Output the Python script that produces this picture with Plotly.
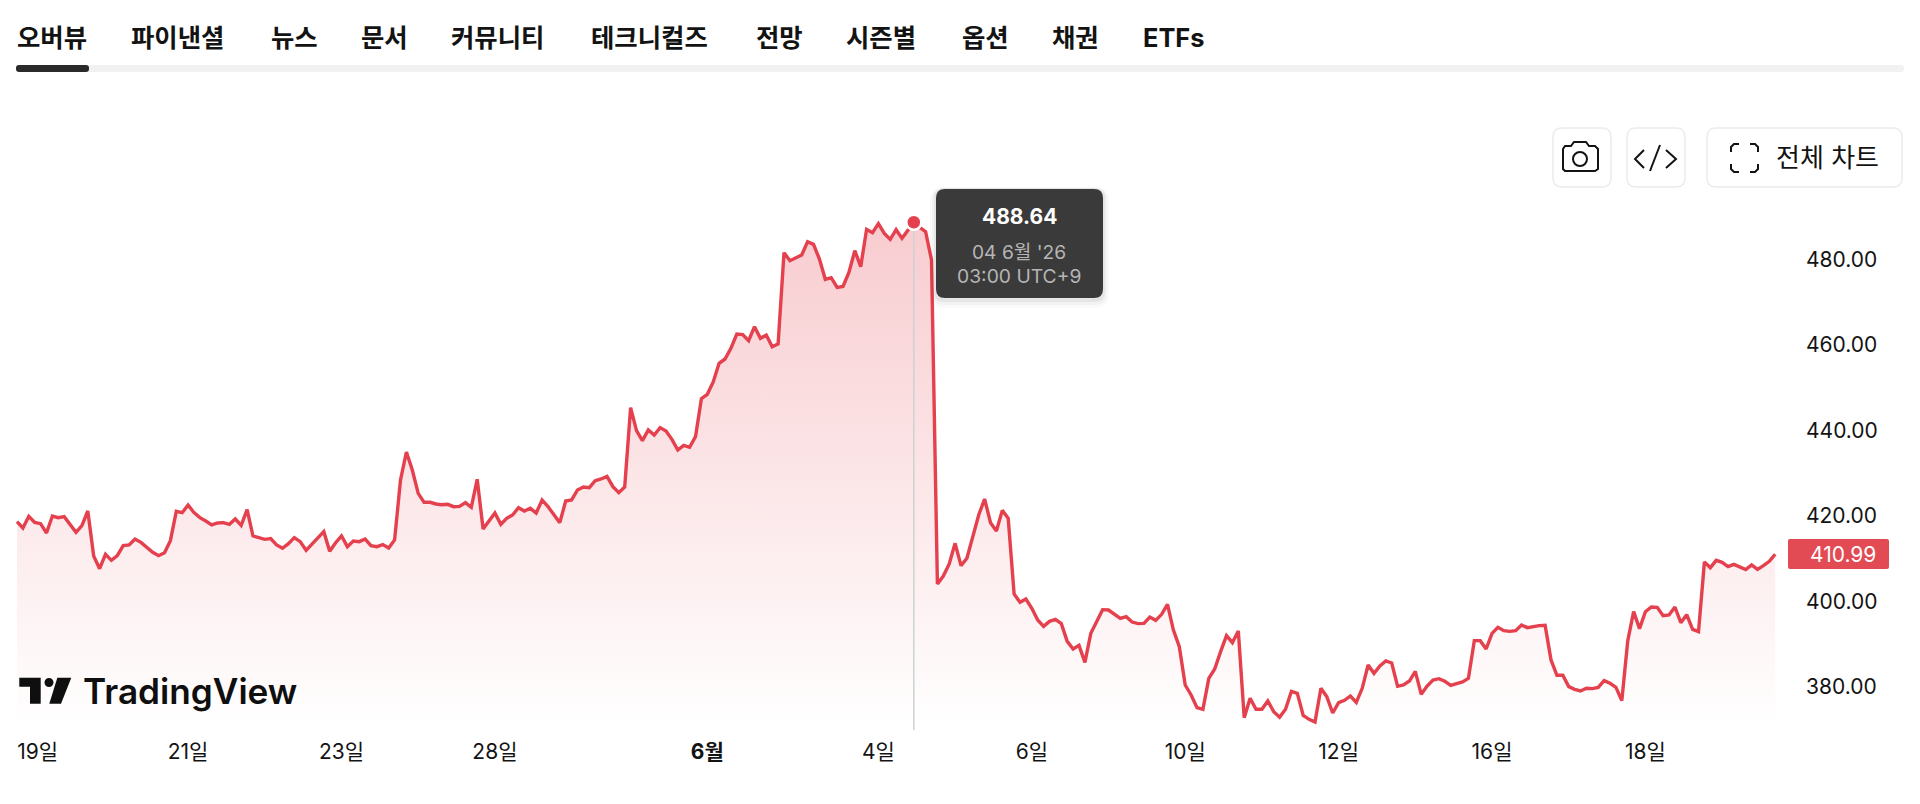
import plotly.graph_objects as go

# Price samples (roughly 13 samples per day)
prices = [
    418.61, 417.12, 419.85, 418.45, 418.14, 415.95, 419.93, 419.54, 419.78, 417.83,
    416.11, 417.67, 421.10, 410.57, 407.61, 410.96, 409.56, 410.65, 412.99, 413.15,
    414.55, 413.77, 412.60, 411.43, 410.65, 411.35, 414.16, 421.02, 420.71, 422.50,
    420.71, 419.54, 418.76, 417.83, 418.29, 418.37, 417.98, 419.23, 417.75, 421.41,
    415.25, 414.94, 414.47, 414.63, 413.15, 412.37, 413.46, 414.86, 413.93, 411.90,
    413.38, 414.78, 416.27, 411.67, 413.69, 415.25, 412.76, 414.08, 413.93, 414.55,
    412.99, 412.76, 413.23, 412.45, 414.32, 428.35, 434.90, 430.69, 425.23, 423.13,
    423.13, 422.74, 422.58, 422.66, 422.11, 422.19, 423.05, 421.96, 428.51, 416.89,
    418.76, 420.64, 417.98, 419.39, 420.17, 421.88, 421.10, 421.73, 420.64, 423.68,
    422.12, 420.25, 418.37, 423.44, 423.68, 426.02, 426.72, 426.56, 428.20, 428.59,
    429.21, 426.79, 425.39, 426.72, 445.27, 439.89, 437.55, 440.05, 438.88, 440.60,
    439.82, 437.87, 435.37, 436.46, 436.00, 438.49, 447.38, 448.39, 451.28, 455.64,
    456.66, 459.15, 462.51, 462.35, 460.95, 464.22, 461.49, 462.27, 459.54, 460.17,
    481.53, 479.66, 480.28, 480.98, 484.10, 483.48, 480.05, 475.29, 475.68, 473.42,
    473.65, 476.93, 482.00, 478.26, 486.99, 486.21, 488.31, 486.05, 484.65, 486.91,
    484.88, 486.83, 488.64, 487.46, 486.44, 479.81, 404.02, 405.89, 408.70, 413.54,
    408.31, 410.03, 415.10, 420.16, 423.91, 418.37, 416.42, 421.25, 419.38, 401.68,
    399.74, 400.51, 398.33, 395.60, 394.12, 395.29, 395.76, 394.75, 390.61, 388.82,
    389.68, 385.70, 392.48, 395.29, 398.02, 397.94, 397.01, 395.99, 396.38, 395.13,
    394.75, 394.82, 396.30, 395.52, 396.93, 399.27, 393.26, 389.36, 380.40, 378.06,
    375.10, 374.71, 381.96, 384.14, 388.20, 391.94, 390.30, 393.03, 372.76, 377.28,
    374.71, 374.71, 376.66, 374.16, 372.84, 374.71, 378.92, 378.45, 373.30, 372.37,
    371.74, 379.62, 377.67, 373.85, 376.27, 376.81, 377.83, 376.34, 379.62, 385.08,
    383.13, 384.84, 386.01, 385.54, 380.09, 380.40, 381.33, 383.60, 378.22, 380.16,
    381.57, 381.88, 381.26, 380.32, 380.71, 381.10, 381.96, 390.77, 390.77, 388.82,
    392.48, 393.89, 393.11, 392.95, 393.11, 394.43, 393.81, 394.12, 394.28, 394.35,
    386.25, 382.66, 382.66, 380.01, 379.38, 378.99, 379.62, 379.54, 379.85, 381.41,
    380.79, 379.85, 376.73, 390.69, 397.55, 393.58, 397.55, 398.64, 398.57, 396.62,
    396.77, 398.64, 394.98, 396.85, 393.42, 392.87, 409.17, 407.84, 409.56, 409.09,
    408.08, 408.62, 408.08, 407.38, 408.47, 407.45, 408.31, 409.33, 410.99,
]
sample = list(range(len(prices)))

date_ticks = [3.5, 29, 55, 81, 117, 146, 172, 198, 224, 250, 276]
date_labels = ['19일', '21일', '23일', '28일', '<b>6월</b>', '4일', '6일', '10일', '12일', '16일', '18일']
price_ticks = [380, 400, 420, 440, 460, 480]

hover_idx = 152
tabs = ['오버뷰', '파이낸셜', '뉴스', '문서', '커뮤니티', '테크니컬즈', '전망', '시즌별', '옵션', '채권', 'ETFs']
tab_left = [16, 130, 270, 360, 450, 590, 755, 845, 961, 1051, 1142]

RED = '#e5404d'
INK = '#131313'
KR_FONT = 'Inter, "Noto Sans CJK KR", sans-serif'


# The page body has an 8px margin, so the figure is 1904x788 and sits at (8, 8).
# These two turn window pixels into paper coordinates for the page furniture.
def fx(x):
    return (x - 8) / 1904


def fy(y):
    return 1 - (y - 8) / 788


def round_rect(x0, y0, x1, y1, r):
    return (f'M {fx(x0 + r)} {fy(y0)} L {fx(x1 - r)} {fy(y0)} Q {fx(x1)} {fy(y0)} {fx(x1)} {fy(y0 + r)} '
            f'L {fx(x1)} {fy(y1 - r)} Q {fx(x1)} {fy(y1)} {fx(x1 - r)} {fy(y1)} '
            f'L {fx(x0 + r)} {fy(y1)} Q {fx(x0)} {fy(y1)} {fx(x0)} {fy(y1 - r)} '
            f'L {fx(x0)} {fy(y0 + r)} Q {fx(x0)} {fy(y0)} {fx(x0 + r)} {fy(y0)} Z')


def poly(points, close=False):
    d = 'M ' + ' L '.join(f'{fx(x)} {fy(y)}' for x, y in points)
    return d + (' Z' if close else '')


def solid(path, color):
    return dict(type='path', xref='paper', yref='paper', path=path, fillcolor=color, line_width=0)


def stroke(path, color=INK, width=2):
    return dict(type='path', xref='paper', yref='paper', path=path, line=dict(color=color, width=width))


def label(text, x, y, size, color=INK, anchor='left', weight=None, family=KR_FONT):
    return dict(xref='paper', yref='paper', x=fx(x), y=fy(y), text=text, showarrow=False, xanchor=anchor,
                yanchor='middle', borderpad=0,
                font=dict(family=family, size=size, color=color, weight=weight))


fig = go.Figure()

# Area + line
fig.add_trace(go.Scatter(x=sample, y=prices, mode='lines', fill='tozeroy',
                         line=dict(color=RED, width=3.4, shape='linear'),
                         fillgradient=dict(type='vertical', start=370, stop=490,
                                           colorscale=[[0, 'rgba(229,64,77,0)'], [1, 'rgba(229,64,77,0.27)']]),
                         hoverinfo='skip', showlegend=False))

# Crosshair and hover dot
fig.add_trace(go.Scatter(x=[hover_idx, hover_idx], y=[prices[hover_idx], 369.87], mode='lines',
                         line=dict(color='#ccd2d2', width=1.5), hoverinfo='skip', showlegend=False))
fig.add_trace(go.Scatter(x=[hover_idx], y=[prices[hover_idx]], mode='markers',
                         marker=dict(color=RED, size=15, line=dict(color='white', width=2.5)),
                         hoverinfo='skip', showlegend=False))

shapes = [
    # tab bar
    solid(round_rect(16, 65, 1904, 72, 3), '#f1f1f1'),
    solid(round_rect(16, 65, 89, 72, 3), '#2a2a2a'),
    # toolbar buttons
    dict(type='path', xref='paper', yref='paper', path=round_rect(1553, 128, 1611, 187, 9),
         line=dict(color='#ececec', width=1.5), fillcolor='white'),
    dict(type='path', xref='paper', yref='paper', path=round_rect(1627, 128, 1685, 187, 9),
         line=dict(color='#ececec', width=1.5), fillcolor='white'),
    dict(type='path', xref='paper', yref='paper', path=round_rect(1707, 128, 1902, 187, 9),
         line=dict(color='#ececec', width=1.5), fillcolor='white'),
    # camera icon
    stroke(poly([(1565, 146), (1571, 146), (1574, 142), (1586, 142), (1589, 146), (1595, 146), (1598, 149),
                 (1598, 169), (1595, 171), (1565, 171), (1563, 169), (1563, 149)], close=True)),
    dict(type='circle', xref='paper', yref='paper', x0=fx(1573), x1=fx(1587), y0=fy(152), y1=fy(166),
         line=dict(color=INK, width=2)),
    # code icon
    stroke(poly([(1644, 150), (1635, 159), (1644, 168)])),
    stroke(poly([(1660, 145), (1650, 171)])),
    stroke(poly([(1666, 150), (1676, 159), (1666, 168)])),
    # fullscreen icon corners
    stroke(poly([(1731, 152), (1731, 147), (1734, 144), (1739, 144)])),
    stroke(poly([(1750, 144), (1755, 144), (1758, 147), (1758, 152)])),
    stroke(poly([(1758, 164), (1758, 169), (1755, 172), (1750, 172)])),
    stroke(poly([(1739, 172), (1734, 172), (1731, 169), (1731, 164)])),
    # tooltip with a soft shadow
    solid(round_rect(930, 187, 1109, 308, 14), 'rgba(0,0,0,0.02)'),
    solid(round_rect(932, 188, 1107, 305, 12), 'rgba(0,0,0,0.03)'),
    solid(round_rect(934, 188, 1105, 302, 10), 'rgba(0,0,0,0.05)'),
    solid(round_rect(936, 189, 1103, 298, 9), '#3a3a3a'),
    # last price tag
    solid(round_rect(1788, 539, 1889, 569, 2), '#e24a54'),
    # TradingView mark
    solid(poly([(19.3, 677.7), (40.7, 677.7), (40.7, 703.7), (30, 703.7), (30, 686.7), (19.3, 686.7)], close=True), '#0f0f0f'),
    dict(type='circle', xref='paper', yref='paper', x0=fx(44.5), x1=fx(53.5), y0=fy(678), y1=fy(687),
         fillcolor='#0f0f0f', line_width=0),
    solid(poly([(57.3, 677.7), (71.3, 677.7), (61, 703.7), (49.3, 703.7)], close=True), '#0f0f0f'),
]

annotations = [label(t, x, 37, 25.4, weight=700) for t, x in zip(tabs, tab_left)]
annotations += [
    label('전체 차트', 1880, 158, 26, anchor='right'),
    label('488.64', 1019, 216, 21, color='white', anchor='center', weight=700),
    label("04 6월 '26", 1019, 252, 19.2, color='#b5b5b5', anchor='center'),
    label('03:00 UTC+9', 1019, 276, 19.3, color='#b5b5b5', anchor='center'),
    label('TradingView', 82, 691, 35.2, color='#0f0f0f', weight=600),
    # tied to the last price on the axis
    dict(xref='paper', yref='y', x=fx(1877), y=prices[-1], text=f'{prices[-1]:.2f}', showarrow=False,
         xanchor='right', yanchor='middle', borderpad=0, font=dict(family=KR_FONT, size=21, color='white')),
]

fig.update_layout(width=1904, height=788, margin=dict(l=0, r=0, t=0, b=0),
                  paper_bgcolor='white', plot_bgcolor='white', showlegend=False,
                  font=dict(family=KR_FONT, color=INK),
                  shapes=shapes, annotations=annotations)

fig.update_xaxes(domain=[fx(10), fx(1800)], range=[-1.186, 302.2], tickmode='array',
                 tickvals=date_ticks, ticktext=date_labels, tickfont=dict(size=21, color=INK),
                 showgrid=False, zeroline=False, showline=False, ticks='', ticklabelstandoff=7)
fig.update_yaxes(domain=[fy(730), fy(190)], range=[369.87, 496.19], side='right', tickmode='array',
                 tickvals=price_ticks, tickformat='.2f', tickfont=dict(size=21, color=INK),
                 showgrid=False, zeroline=False, showline=False, ticks='', ticklabelstandoff=5)

fig.write_html("out.html")
